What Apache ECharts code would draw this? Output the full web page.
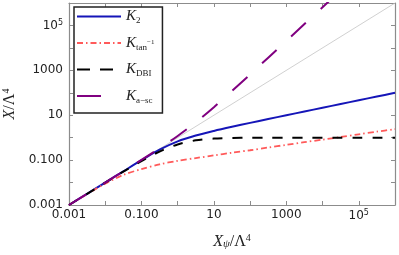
<!DOCTYPE html>
<html>
<head>
<meta charset="utf-8">
<script src="https://cdn.jsdelivr.net/npm/echarts@6/dist/echarts.min.js"></script>
<style>
html,body{margin:0;padding:0;background:#fff;}
#c{width:399px;height:255px;}
</style>
</head>
<body>
<div id="c"></div>
<script>
// X_psi / Lambda^4 sample points (half decades)
const xpsi = [0.001, 0.00316, 0.01, 0.0316, 0.1, 0.316, 1, 3.16, 10, 31.6, 100, 316, 1000, 3162, 10000, 31623, 100000, 316228, 1000000];
// X / Lambda^4 for each model
const k2   = [0.001, 0.00316, 0.01, 0.03157, 0.099, 0.2915, 0.6823, 1.243, 2.0, 3.057, 4.57, 6.762, 9.967, 14.655, 21.53, 31.61, 46.41, 68.12, 99.99];
const ktan = [0.001, 0.00309, 0.00891, 0.0219, 0.0398, 0.0646, 0.0933, 0.123, 0.162, 0.214, 0.275, 0.363, 0.479, 0.631, 0.813, 1.07, 1.41, 1.86, 2.40];
const kdbi = [0.000999, 0.00315, 0.0099, 0.0306, 0.0909, 0.240, 0.5, 0.760, 0.909, 0.969, 0.990, 0.9968, 0.999, 0.9997, 0.9999, 0.99997, 0.99999, 1.0, 1.0];
const kasc = [0.001, 0.00316, 0.01002, 0.03183, 0.1021, 0.3367, 1.193, 4.83, 22.86, 119.8, 657.6, 3669, 20580, 115600, 650100, 3655000];
// reference line X = X_psi
const diagX = [0.001, 1000000];
const diagY = [0.001, 1000000];
// tick labels by decade exponent
const tickLabels = {'-3': '0.001', '-1': '0.100', '1': '10', '3': '1000', '5': '{n|10}{sup|5}'};
const names = ['K2', 'Ktan', 'KDBI', 'Kasc'];
const legendText = {
  K2: '{k|K}{s|2}',
  Ktan: '{k|K}{s|tan}{ss|−1}',
  KDBI: '{k|K}{s|DBI}',
  Kasc: '{k|K}{s|a−sc}'
};

function pairs(xs, ys) { return ys.map((y, i) => [xs[i], y]); }

const serif = 'Liberation Serif, DejaVu Serif, serif';
const sans = 'DejaVu Sans, sans-serif';
const frameColor = '#8c8c8c';

function labelFmt(v) {
  const e = Math.round(Math.log10(v));
  const s = tickLabels[String(e)];
  return s === undefined ? '' : s;
}
const labelRich = {
  n: {fontFamily: sans, fontSize: 12, color: '#222'},
  sup: {fontFamily: sans, fontSize: 8, color: '#222', verticalAlign: 'top', padding: [0, 0, 6, 0]}
};

function axisCommon(show) {
  return {
    type: 'log', logBase: 10, min: 0.001, max: 1000000, interval: 1,
    axisLine: {show: true, lineStyle: {color: frameColor, width: 1.2}},
    axisTick: {show: true, inside: true, length: 4, lineStyle: {color: frameColor, width: 1}},
    splitLine: {show: false},
    axisLabel: {show: show, interval: 1, formatter: labelFmt, fontFamily: sans, fontSize: 12, color: '#222', rich: labelRich}
  };
}

const xBottom = Object.assign(axisCommon(true), {
  position: 'bottom',
  name: '{i|X}{sub|ψ}{n|/Λ}{sup|4}',
  nameLocation: 'middle', nameGap: 28,
  nameTextStyle: {rich: {
    i: {fontFamily: serif, fontStyle: 'italic', fontSize: 16, color: '#222'},
    sub: {fontFamily: serif, fontStyle: 'italic', fontSize: 11, color: '#222', verticalAlign: 'bottom', padding: [6, 0, 0, 0]},
    n: {fontFamily: serif, fontSize: 16, color: '#222'},
    sup: {fontFamily: serif, fontSize: 10, color: '#222', verticalAlign: 'top', padding: [0, 0, 6, 0]}
  }}
});
xBottom.axisLabel.margin = 4;
const xTop = Object.assign(axisCommon(false), {position: 'top'});
const yLeft = Object.assign(axisCommon(true), {
  position: 'left',
  name: '{i|X}{n|/Λ}{sup|4}',
  nameLocation: 'middle', nameGap: 38, nameRotate: 90,
  nameTextStyle: {rich: {
    i: {fontFamily: serif, fontStyle: 'italic', fontSize: 16, color: '#222'},
    n: {fontFamily: serif, fontSize: 16, color: '#222'},
    sup: {fontFamily: serif, fontSize: 10, color: '#222', verticalAlign: 'top', padding: [0, 0, 6, 0]}
  }}
});
yLeft.axisLabel.margin = 6;
const yRight = Object.assign(axisCommon(false), {position: 'right'});

const chart = echarts.init(document.getElementById('c'), null, {renderer: 'canvas'});
chart.setOption({
  animation: false,
  backgroundColor: '#fff',
  grid: {left: 69, right: 4, top: 3, bottom: 50, containLabel: false, outerBoundsMode: 'none'},
  xAxis: [xBottom, xTop],
  yAxis: [yLeft, yRight],
  legend: {
    data: [
      {name: 'K2'},
      {name: 'Ktan'},
      {name: 'KDBI', lineStyle: {type: [13, 10]}},
      {name: 'Kasc', lineStyle: {type: [24, 30]}}
    ],
    orient: 'vertical',
    left: 74, top: 7,
    itemWidth: 44, itemHeight: 12, itemGap: 10,
    padding: [2, 8, 8, 2],
    backgroundColor: '#fff',
    borderColor: '#222', borderWidth: 1.5, borderRadius: 0,
    itemStyle: {opacity: 0},
    formatter: n => legendText[n],
    textStyle: {rich: {
      k: {fontFamily: serif, fontStyle: 'italic', fontSize: 15, color: '#222', lineHeight: 18},
      s: {fontFamily: serif, fontSize: 9, color: '#222', verticalAlign: 'bottom', padding: [5, 0, 0, 0]},
      ss: {fontFamily: serif, fontSize: 7, color: '#222', verticalAlign: 'middle', padding: [0, 0, 2, 0]}
    }}
  },
  series: [
    {type: 'line', name: 'diag', data: pairs(diagX, diagY), symbol: 'none', silent: true,
     lineStyle: {color: '#c4c4c4', width: 0.8}, z: 1},
    {type: 'line', name: 'K2', data: pairs(xpsi, k2), symbol: 'none', smooth: 0.3,
     itemStyle: {color: '#1515b8'}, lineStyle: {color: '#1515b8', width: 2}, z: 2},
    {type: 'line', name: 'Ktan', data: pairs(xpsi, ktan), symbol: 'none', smooth: 0.3,
     itemStyle: {color: '#ff5a5a'}, lineStyle: {color: '#ff5a5a', width: 1.8, type: [6, 3, 1.5, 3]}, z: 3},
    {type: 'line', name: 'KDBI', data: pairs(xpsi, kdbi), symbol: 'none', smooth: 0.3,
     itemStyle: {color: '#000'}, lineStyle: {color: '#000', width: 2, type: [10, 10]}, z: 4},
    {type: 'line', name: 'Kasc', data: pairs(xpsi, kasc), symbol: 'none', smooth: 0.3,
     itemStyle: {color: '#800080'}, lineStyle: {color: '#800080', width: 2, type: [20, 20]}, z: 5}
  ]
});
</script>
</body>
</html>
